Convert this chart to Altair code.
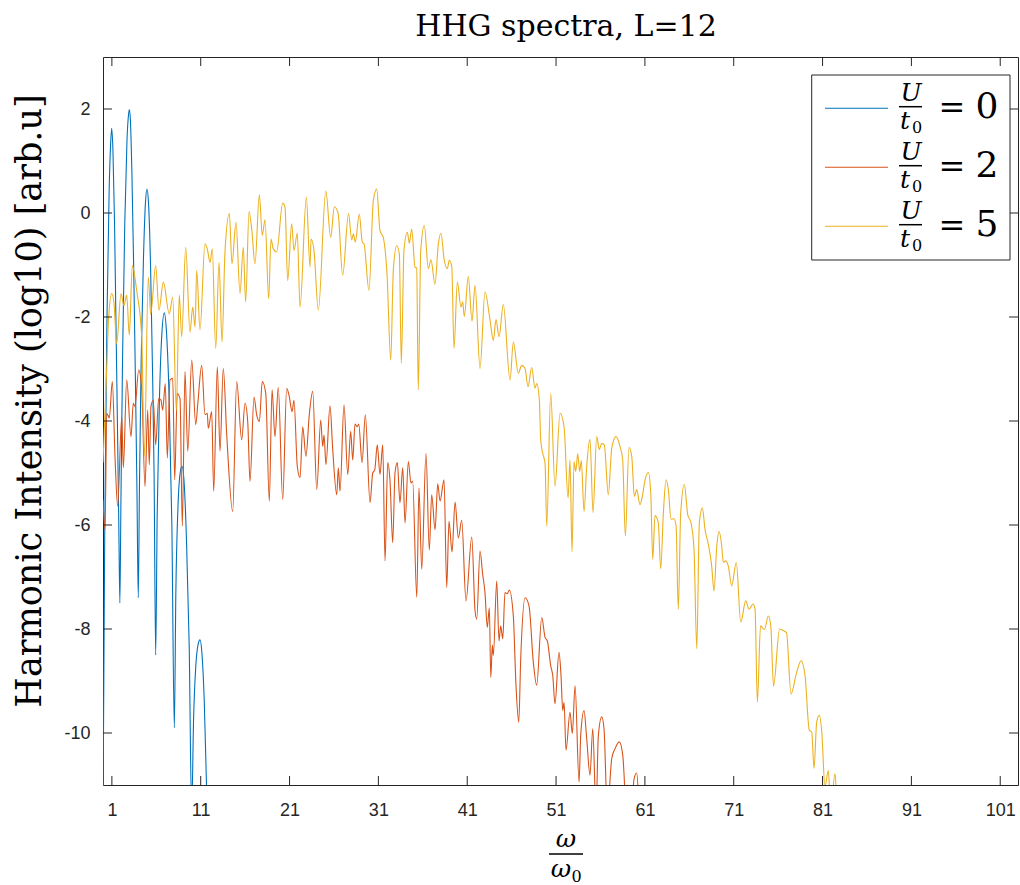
import altair as alt
import pandas as pd

# ---------------- data ----------------
blue_x = [0.0, 0.2, 0.45, 0.7, 0.85, 0.98, 1.12, 1.3, 1.45, 1.62, 1.78, 1.9,
          2.02, 2.2, 2.45, 2.7, 2.85, 2.96, 3.08, 3.25, 3.45, 3.65, 3.82, 3.97,
          4.1, 4.3, 4.55, 4.78, 4.95, 5.12, 5.35, 5.55, 5.75, 5.93,
          6.1, 6.35, 6.6, 6.9, 7.15, 7.45, 7.75, 8.03, 8.2, 8.45, 8.7, 8.89,
          9.1, 9.4, 9.7, 9.98, 10.2, 10.45, 10.7, 10.92, 11.15, 11.4, 11.65, 11.85]
blue_y = [-11.5, -6.0, -2.0, 0.5, 1.3, 1.63, 1.2, -0.2, -2.0, -4.0, -6.0, -7.5,
          -5.5, -2.8, -0.2, 1.4, 1.85, 1.99, 1.8, 0.8, -1.0, -3.2, -5.3, -7.4,
          -5.3, -2.8, -0.9, 0.2, 0.46, 0.2, -1.0, -2.8, -5.0, -8.5,
          -5.8, -3.6, -2.4, -1.92, -2.3, -3.6, -6.0, -9.9, -7.3, -5.6, -4.98, -4.87,
          -5.1, -6.3, -8.3, -11.5, -9.7, -8.7, -8.3, -8.21, -8.5, -9.4, -11.0, -12.0]

red_pts = [(0.0,-5.51),(0.23,-6.09),(0.42,-3.85),(0.71,-3.94),(1.05,-3.24),(1.35,-4.68),(1.65,-5.64),
    (2.11,-3.92),(2.29,-4.9),(2.67,-3.21),(3.15,-4.3),(3.41,-3.66),(3.60,-3.72),(4.02,-3.02),(4.36,-3.4),
    (4.73,-5.26),(5.03,-3.79),(5.21,-4.84),(5.40,-3.72),(5.66,-3.6),(5.93,-4.46),(6.27,-3.57),(6.53,-3.6),
    (6.72,-3.79),(7.01,-3.28),(7.24,-4.71),(7.54,-3.21),(7.85,-3.18),(8.07,-5.13),(8.36,-3.47),(8.67,-3.57),
    (8.93,-6.02),(9.23,-3.05),(9.54,-4.58),(9.99,-2.83),(10.44,-4.07),(10.66,-3.69),(11.11,-2.93),(11.48,-3.88),
    (11.74,-3.85),(11.85,-4.14),(12.24,-3.82),(12.46,-5.35),(12.87,-2.96),(13.17,-4.58),(13.54,-2.99),(13.93,-4.27),
    (14.60,-5.74),(15.05,-3.24),(15.61,-4.36),(15.99,-3.66),(16.29,-4.01),(16.55,-5.16),(17.00,-3.54),(17.30,-3.88),
    (17.60,-4.01),(17.93,-3.24),(18.32,-3.47),(18.72,-5.54),(19.03,-3.4),(19.36,-4.3),(19.73,-3.35),(20.23,-5.51),
    (20.68,-3.37),(20.97,-3.53),(21.28,-3.82),(21.50,-3.6),(21.87,-4.87),(22.18,-5.09),(22.48,-4.11),(22.85,-4.68),
    (23.22,-3.88),(23.61,-3.43),(24.06,-5.32),(24.51,-3.98),(24.73,-4.49),(24.88,-4.27),(25.10,-4.84),(25.55,-3.71),
    (25.86,-4.55),(26.31,-5.42),(26.49,-4.9),(26.68,-5.35),(27.13,-3.69),(27.55,-5.03),(27.88,-4.2),(28.11,-4.75),
    (28.37,-4.06),(28.63,-4.11),(28.79,-4.06),(29.16,-4.8),(29.53,-3.88),(30.06,-5.57),(30.36,-5.0),(30.59,-4.94),
    (30.88,-4.46),(31.18,-5.03),(31.49,-4.46),(31.75,-6.69),(32.05,-4.8),(32.31,-5.16),(32.61,-6.34),(32.87,-5.0),
    (33.13,-4.8),(33.43,-5.57),(33.74,-4.9),(34.00,-5.96),(34.37,-4.78),(34.67,-5.19),(34.86,-5.16),(35.32,-7.39),
    (35.57,-5.29),(35.88,-6.85),(36.36,-4.62),(36.73,-6.48),(37.00,-5.42),(37.38,-6.09),(37.68,-5.21),(37.94,-5.54),
    (38.39,-5.13),(38.69,-7.2),(38.95,-5.93),(39.29,-6.52),(39.63,-5.56),(40.00,-6.25),(40.38,-5.91),(40.86,-7.46),
    (41.51,-6.23),(41.88,-7.65),(42.07,-7.81),(42.44,-6.5),(42.74,-6.95),(43.00,-7.3),(43.26,-7.97),(43.49,-7.59),
    (43.65,-8.93),(43.83,-8.31),(43.94,-8.51),(44.32,-7.08),(44.58,-8.23),(44.77,-7.94),(45.00,-8.19),(45.25,-7.3),
    (45.51,-7.32),(45.74,-7.25),(46.19,-7.75),(46.49,-9.09),(46.80,-9.79),(47.02,-8.58),(47.51,-7.4),(47.96,-7.56),
    (48.44,-8.64),(48.82,-9.08),(49.39,-7.78),(49.76,-8.16),(50.02,-8.23),(50.40,-8.71),(50.63,-8.9),(50.88,-9.44),
    (51.33,-8.45),(51.56,-8.9),(51.75,-9.57),(51.90,-9.41),(52.12,-10.33),(52.57,-9.6),(52.83,-10.01),(53.14,-9.09),
    (53.59,-10.94),(53.78,-10.03),(54.15,-9.57),(54.45,-10.11),(54.82,-10.81),(55.13,-9.92),(55.50,-11.5),(55.76,-10.05),
    (56.14,-9.69),(56.40,-9.92),(56.77,-11.5),(57.27,-10.49),(57.64,-10.3),(58.12,-10.17),(58.51,-10.43),(58.88,-11.5),
    (59.20,-11.8),(59.52,-11.5),(59.78,-10.88),(60.08,-10.77),(60.37,-11.5),(60.6,-12.0)]

yellow_pts = [(0.0,-4.8),(0.42,-2.98),(0.62,-2.06),(0.98,-1.55),(1.24,-1.74),(1.54,-2.51),(2.03,-1.55),(2.36,-1.78),
    (2.67,-1.58),(2.96,-2.35),(3.30,-1.01),(3.79,-1.49),(4.36,-2.38),(4.65,-4.68),(5.10,-1.23),(5.37,-1.94),
    (5.93,-1.01),(6.30,-1.87),(6.79,-1.33),(7.46,-1.94),(7.85,-1.62),(8.25,-3.79),(8.59,-1.58),(8.86,-2.38),
    (9.31,-0.66),(9.79,-2.29),(10.10,-1.81),(10.36,-2.19),(10.55,-1.1),(10.92,-2.25),(11.48,-0.59),(11.74,-0.69),
    (12.05,-0.95),(12.30,-0.69),(12.69,-2.61),(13.06,-0.95),(13.40,-2.48),(13.73,-0.75),(14.22,-0.01),(14.52,-0.98),
    (14.97,-0.18),(15.42,-1.55),(15.79,-0.66),(16.06,-1.71),(16.44,0.03),(16.74,-0.31),(17.11,-0.98),(17.60,0.35),
    (17.93,-0.43),(18.24,-0.13),(18.65,-1.65),(18.91,-0.5),(19.17,-0.69),(19.55,-0.75),(20.23,0.19),(20.49,0.11),
    (20.79,-1.3),(21.24,-0.21),(21.50,-0.72),(21.87,-0.39),(22.18,-1.81),(22.89,0.3),(23.30,-1.04),(23.42,-0.5),
    (23.75,-0.72),(24.24,-1.87),(25.08,0.42),(25.63,-0.47),(26.04,0.12),(26.46,0.0),(26.98,-1.2),(27.64,-0.01),
    (28.00,-0.52),(28.18,-0.4),(28.40,-0.56),(28.85,-0.02),(29.19,-0.56),(29.38,-0.59),(29.94,-1.49),(30.43,0.24),
    (30.81,0.46),(31.18,-0.34),(31.55,-0.47),(31.97,-1.17),(32.39,-2.83),(32.68,-1.1),(33.06,-0.63),(33.36,-0.79),
    (33.58,-2.89),(33.88,-0.72),(34.26,-0.37),(34.48,-0.58),(34.75,-0.31),(35.12,-1.04),(35.31,-1.06),(35.49,-3.4),
    (35.77,-0.72),(36.17,-0.24),(36.62,-1.07),(36.92,-0.9),(37.37,-1.37),(37.75,-0.59),(38.05,-0.39),(38.39,-0.88),
    (38.76,-1.07),(38.98,-0.91),(39.26,-1.03),(39.51,-2.6),(39.89,-1.33),(40.30,-1.81),(40.49,-1.71),(40.67,-1.99),
    (41.12,-1.22),(41.54,-2.08),(41.88,-1.39),(42.44,-2.99),(43.00,-1.52),(43.57,-2.06),(43.94,-2.45),(44.24,-2.05),
    (44.58,-2.38),(45.06,-1.76),(45.82,-3.21),(46.19,-2.48),(46.75,-3.08),(47.13,-2.93),(47.51,-2.99),(47.84,-3.34),
    (48.26,-2.97),(48.63,-3.37),(48.82,-3.28),(49.12,-3.6),(49.27,-4.36),(49.50,-4.62),(49.76,-4.81),(49.95,-6.02),
    (50.40,-3.47),(50.88,-5.26),(51.45,-3.85),(51.90,-4.11),(52.35,-5.48),(52.57,-4.75),(52.80,-6.52),(53.02,-4.78),
    (53.21,-4.97),(53.44,-4.63),(53.66,-4.97),(53.84,-4.76),(54.15,-5.74),(54.45,-4.87),(54.82,-4.35),(55.16,-5.76),
    (55.58,-4.3),(55.87,-4.55),(56.14,-4.43),(56.43,-4.46),(56.88,-5.42),(57.27,-4.52),(57.75,-4.3),(58.20,-4.49),
    (58.50,-4.75),(58.80,-6.21),(59.21,-4.51),(59.52,-4.68),(59.81,-5.45),(60.08,-5.32),(60.45,-5.61),(60.71,-5.45),
    (61.02,-5.13),(61.39,-4.99),(61.66,-5.38),(61.88,-6.66),(62.14,-5.82),(62.51,-5.96),(62.78,-6.84),(63.08,-5.77),
    (63.38,-5.13),(63.64,-5.32),(63.94,-5.89),(64.28,-5.88),(64.51,-6.02),(64.76,-7.62),(65.03,-5.77),(65.44,-5.22),
    (65.82,-5.8),(66.19,-5.96),(66.53,-6.47),(66.84,-8.38),(67.13,-5.96),(67.47,-5.67),(67.77,-6.09),(68.14,-6.37),
    (68.52,-6.79),(68.78,-7.27),(69.09,-6.41),(69.35,-6.12),(69.65,-6.41),(69.83,-6.72),(70.10,-6.69),(70.39,-6.79),
    (70.77,-7.17),(71.29,-6.72),(71.79,-7.87),(72.35,-7.46),(72.72,-7.62),(73.17,-7.52),(73.40,-7.62),(73.66,-9.41),
    (74.02,-7.94),(74.45,-8.01),(74.90,-7.75),(75.17,-7.94),(75.48,-9.1),(76.16,-8.0),(76.58,-8.03),(76.94,-8.07),
    (77.45,-9.25),(78.09,-8.83),(78.58,-8.61),(79.03,-8.9),(79.51,-9.95),(79.78,-9.98),(80.04,-10.68),(80.34,-9.79),
    (80.64,-9.66),(80.91,-9.98),(81.27,-11.03),(81.65,-10.72),(81.92,-11.5),(82.40,-10.78),(82.66,-11.5),(82.9,-12.0)]

series_names = ["U/t0 = 0", "U/t0 = 2", "U/t0 = 5"]
series_values = ["0", "2", "5"]
series_colors = ["#0072BD", "#D95319", "#EDB120"]

x_ticks = [1, 11, 21, 31, 41, 51, 61, 71, 81, 91, 101]
y_ticks = [-10, -8, -6, -4, -2, 0, 2]
x_domain = [0, 103]
y_domain = [-11, 3]

title_text = "HHG spectra, L=12"
ylabel_text = "Harmonic Intensity (log10) [arb.u]"

# ---------------- chart ----------------
W, H = 915, 728
AX = "#262626"
SERIF = "DejaVu Serif"

xscale = alt.Scale(domain=x_domain, nice=False, zero=False)
yscale = alt.Scale(domain=y_domain, nice=False, zero=False)
xaxis = alt.Axis(values=x_ticks, title=None, grid=False, ticks=False, domain=False,
                 labelFont="Liberation Sans", labelFontSize=18, labelColor=AX,
                 labelPadding=16, labelExpr="'' + datum.value")
yaxis = alt.Axis(values=y_ticks, title=None, grid=False, ticks=False, domain=False,
                 labelFont="Liberation Sans", labelFontSize=18, labelColor=AX,
                 labelPadding=13, labelExpr="'' + datum.value")

X = lambda: alt.X("x:Q", scale=xscale, axis=xaxis)
Y = lambda: alt.Y("y:Q", scale=yscale, axis=yaxis)

blue_df = pd.DataFrame({"x": blue_x, "y": blue_y})
red_df = pd.DataFrame(red_pts, columns=["x", "y"])
yel_df = pd.DataFrame(yellow_pts, columns=["x", "y"])

layers = []
for df, col in zip([blue_df, red_df, yel_df], series_colors):
    layers.append(alt.Chart(df).mark_line(color=col, strokeWidth=1.1, clip=True,
                                          interpolate="monotone").encode(x=X(), y=Y()))

xt = pd.DataFrame({"x": x_ticks})
yt = pd.DataFrame({"y": y_ticks})
TL = 9
layers.append(alt.Chart(xt).mark_rule(color=AX, strokeWidth=1).encode(
    x=X(), y=alt.value(H), y2=alt.value(H - TL)))
layers.append(alt.Chart(xt).mark_rule(color=AX, strokeWidth=1).encode(
    x=X(), y=alt.value(0), y2=alt.value(TL)))
layers.append(alt.Chart(yt).mark_rule(color=AX, strokeWidth=1).encode(
    y=Y(), x=alt.value(0), x2=alt.value(TL)))
layers.append(alt.Chart(yt).mark_rule(color=AX, strokeWidth=1).encode(
    y=Y(), x=alt.value(W), x2=alt.value(W - TL)))

one = pd.DataFrame({"a": [0]})


def txt(text, x, y, size, style="normal", align="center", baseline="alphabetic",
        angle=0, font=SERIF, color="#000000"):
    return alt.Chart(one).mark_text(font=font, fontSize=size, fontStyle=style,
                                    align=align, baseline=baseline, angle=angle,
                                    color=color).encode(
        x=alt.value(x), y=alt.value(y), text=alt.value(text))


def hline(x1, x2, y, color="#000000", width=1.0):
    return alt.Chart(one).mark_rule(color=color, strokeWidth=width).encode(
        x=alt.value(x1), x2=alt.value(x2), y=alt.value(y))


# legend box
layers.append(alt.Chart(one).mark_rect(fill="white", stroke=AX, strokeWidth=1).encode(
    x=alt.value(708.7), x2=alt.value(907), y=alt.value(18), y2=alt.value(203)))
for k, (val, col) in enumerate(zip(series_values, series_colors)):
    dy = 59 * k
    layers.append(hline(722, 785, 51.3 + dy, color=col, width=1.1))
    layers.append(txt("U", 808, 44.2 + dy, 25, style="italic"))
    layers.append(hline(796, 819, 49.7 + dy, width=1.5))
    layers.append(txt("t", 802, 72 + dy, 25, style="italic"))
    layers.append(txt("0", 814, 75.5 + dy, 16))
    layers.append(txt("=", 849, 61.3 + dy, 32))
    layers.append(txt(val, 884, 61.3 + dy, 36))

# titles
layers.append(txt(title_text, 463, -21, 30))
layers.append(txt(ylabel_text, -73, 344, 35, angle=270, baseline="middle"))
# x label as fraction omega / omega_0
layers.append(txt("ω", 463, 790, 25, style="italic"))
layers.append(hline(446, 480, 797, width=1.5))
layers.append(txt("ω", 458, 820, 25, style="italic"))
layers.append(txt("0", 473.5, 825, 16))

chart = alt.layer(*layers).properties(
    width=W, height=H,
    autosize=alt.AutoSizeParams(type="none"),
    padding={"left": 103, "top": 57, "right": 2, "bottom": 100},
    background="white",
).configure_view(stroke=AX, strokeWidth=1)

chart.save("out.html", embed_options={"renderer": "svg", "actions": False})
